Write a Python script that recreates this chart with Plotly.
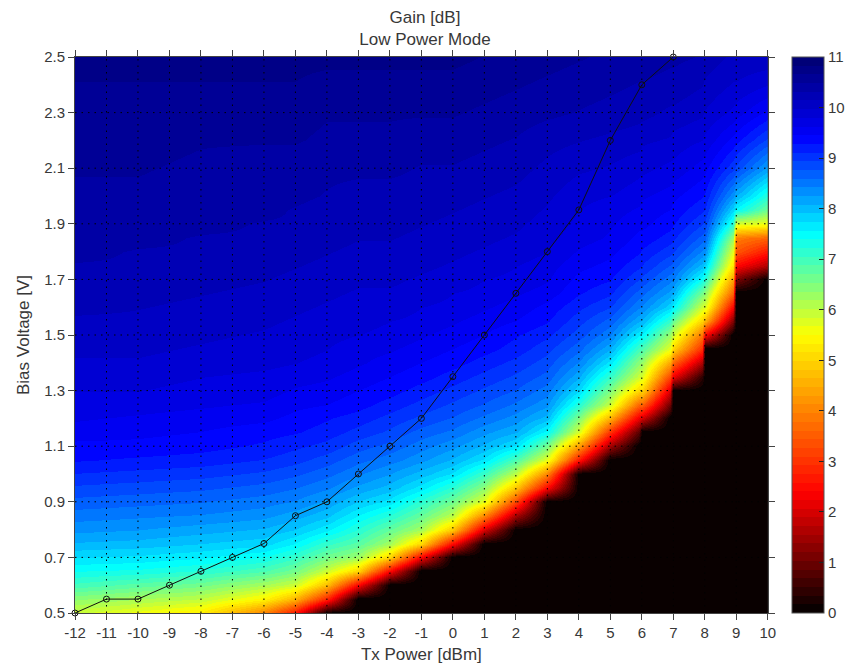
import numpy as np
import plotly.graph_objects as go

tx_power = [-12, -10, -8, -6, -5, -4, -3, -2, -1, 0, 1, 2, 3, 4, 5, 5.9, 6, 6.9, 7, 7.9, 8, 8.9, 9, 10]
bias_v = [0.5, 0.55, 0.6, 0.65, 0.7, 0.75, 0.8, 0.85, 0.9, 0.95,
          1.0, 1.05, 1.1, 1.15, 1.2, 1.25, 1.3, 1.35, 1.4, 1.45,
          1.5, 1.55, 1.6, 1.65, 1.7, 1.75, 1.8, 1.85, 1.9, 1.95,
          2.0, 2.1, 2.2, 2.3, 2.4, 2.5]

g_m12 = [5.9,6.4,7.0,7.4,7.75,8.05,8.3,8.5,8.7,8.9, 9.1,9.3,9.4,9.55,9.65,9.75,9.8,9.9,9.95,10.0, 10.05,10.1,10.2,10.25,10.3,10.3,10.35,10.4,10.4,10.45, 10.45,10.5,10.55,10.6,10.65,10.7]
g_m10 = [5.6,6.2,6.8,7.35,7.7,8.0,8.25,8.45,8.65,8.85, 9.05,9.25,9.4,9.5,9.6,9.7,9.8,9.85,9.95,10.0, 10.05,10.1,10.15,10.2,10.25,10.3,10.3,10.35,10.4,10.4, 10.45,10.5,10.55,10.6,10.65,10.7]
g_m8 = [5.3,6.0,6.6,7.2,7.6,7.9,8.15,8.4,8.6,8.8, 9.0,9.2,9.35,9.45,9.55,9.65,9.75,9.8,9.9,9.95, 10.0,10.05,10.1,10.15,10.2,10.25,10.3,10.3,10.35,10.4, 10.4,10.45,10.5,10.6,10.65,10.7]
g_m6 = [4.0,5.4,6.2,6.9,7.4,7.8,8.05,8.3,8.5,8.7, 8.9,9.1,9.25,9.35,9.5,9.6,9.7,9.75,9.85,9.9, 9.95,10.0,10.05,10.1,10.15,10.2,10.25,10.3,10.3,10.35, 10.35,10.4,10.5,10.55,10.65,10.7]
g_m5 = [2.6,4.6,5.9,6.6,7.1,7.55,7.9,8.15,8.4,8.6, 8.8,9.0,9.15,9.3,9.4,9.5,9.6,9.7,9.8,9.85, 9.9,9.95,10.0,10.05,10.1,10.15,10.2,10.25,10.3,10.3, 10.35,10.4,10.5,10.55,10.65,10.7]
g_m4 = [0,2.8,4.7,5.9,6.6,7.1,7.6,7.95,8.2,8.45, 8.65,8.85,9.05,9.2,9.3,9.45,9.55,9.65,9.75,9.8, 9.85,9.9,9.95,10.0,10.05,10.1,10.15,10.2,10.25,10.25, 10.3,10.35,10.45,10.5,10.6,10.7]
g_m3 = [0,0,2.4,5.0,6.3,6.8,7.2,7.55,7.9,8.2, 8.45,8.65,8.85,9.05,9.2,9.35,9.45,9.55,9.65,9.7, 9.8,9.85,9.9,9.95,10.0,10.05,10.1,10.15,10.2,10.25, 10.25,10.35,10.45,10.5,10.6,10.7]
g_m2 = [0,0,0,2.4,5.0,6.2,6.7,7.2,7.65,8.0, 8.25,8.5,8.7,8.9,9.05,9.2,9.35,9.45,9.55,9.65, 9.75,9.8,9.9,9.95,10.0,10.05,10.1,10.15,10.2,10.2, 10.25,10.35,10.45,10.5,10.6,10.7]
g_m1 = [0,0,0,0,2.4,5.0,6.2,6.7,7.15,7.65, 8.0,8.3,8.5,8.7,8.9,9.05,9.2,9.35,9.45,9.55, 9.65,9.75,9.8,9.9,9.95,10.0,10.05,10.1,10.15,10.2, 10.25,10.3,10.4,10.5,10.6,10.7]
g_p0 = [0,0,0,0,0,2.4,4.8,6.0,6.6,7.15, 7.7,8.05,8.3,8.55,8.75,8.9,9.05,9.2,9.35,9.45, 9.55,9.65,9.75,9.8,9.9,9.95,10.0,10.05,10.1,10.15, 10.2,10.3,10.4,10.5,10.6,10.7]
g_p1 = [0,0,0,0,0,0,2.0,4.0,5.7,6.4, 7.05,7.7,8.05,8.3,8.55,8.75,8.9,9.05,9.2,9.35, 9.45,9.55,9.65,9.75,9.8,9.9,9.95,10.0,10.05,10.1, 10.15,10.25,10.35,10.45,10.55,10.65]
g_p2 = [0,0,0,0,0,0,0,1.5,3.2,4.8, 6.0,6.9,7.7,8.1,8.35,8.55,8.75,8.9,9.05,9.2, 9.3,9.45,9.55,9.65,9.75,9.8,9.9,9.95,10.0,10.05, 10.1,10.2,10.3,10.4,10.5,10.6]
g_p3 = [0,0,0,0,0,0,0,0,0,2.4, 4.0,5.7,6.6,7.5,8.0,8.3,8.5,8.7,8.85,9.0, 9.15,9.3,9.4,9.55,9.65,9.7,9.8,9.85,9.9,9.95, 10.0,10.1,10.2,10.35,10.45,10.55]
g_p4 = [0,0,0,0,0,0,0,0,0,0, 0,2.6,4.3,5.8,6.5,7.2,7.75,8.1,8.4,8.65, 8.85,9.0,9.15,9.3,9.4,9.5,9.6,9.7,9.75,9.8, 9.85,10.0,10.15,10.3,10.4,10.5]
g_p5 = [0,0,0,0,0,0,0,0,0,0, 0,0,1.5,3.0,4.6,5.9,6.5,7.1,7.65,8.1, 8.45,8.7,8.95,9.15,9.3,9.4,9.5,9.6,9.65,9.7, 9.8,9.95,10.1,10.25,10.35,10.45]
g_p59 = [0,0,0,0,0,0,0,0,0,0, 0,0,0,0.8,2.2,3.6,5.0,5.9,6.4,7.0, 7.6,8.1,8.45,8.7,8.95,9.15,9.3,9.4,9.5,9.6, 9.7,9.85,10.05,10.2,10.3,10.4]
g_p6 = [0,0,0,0,0,0,0,0,0,0, 0,0,0,0,2.0,3.6,5.0,5.8,6.3,6.9, 7.55,8.05,8.4,8.65,8.9,9.1,9.25,9.4,9.5,9.55, 9.65,9.85,10.0,10.2,10.3,10.4]
g_p69 = [0,0,0,0,0,0,0,0,0,0, 0,0,0,0,0,1.0,2.0,3.2,4.4,5.7, 6.3,7.1,7.8,8.2,8.5,8.75,9.0,9.2,9.35,9.45, 9.55,9.75,9.95,10.1,10.25,10.35]
g_p7 = [0,0,0,0,0,0,0,0,0,0, 0,0,0,0,0,0,0,2.2,3.6,5.0, 5.9,6.7,7.6,8.1,8.45,8.7,8.95,9.15,9.3,9.4, 9.5,9.75,9.9,10.1,10.25,10.35]
g_p79 = [0,0,0,0,0,0,0,0,0,0, 0,0,0,0,0,0,0,0.4,1.6,2.9, 3.8,5.0,5.9,6.6,7.45,8.0,8.4,8.7,8.95,9.15, 9.3,9.55,9.8,10.0,10.15,10.3]
g_p8 = [0,0,0,0,0,0,0,0,0,0, 0,0,0,0,0,0,0,0,0,0, 2.4,4.6,5.8,6.4,7.2,7.8,8.3,8.65,8.9,9.1, 9.25,9.5,9.75,9.95,10.1,10.25]
g_p89 = [0,0,0,0,0,0,0,0,0,0, 0,0,0,0,0,0,0,0,0,0, 0,1.2,2.4,3.6,4.4,5.2,5.7,6.3,7.2,7.8, 8.3,9.0,9.4,9.75,9.95,10.1]
g_p9 = [0,0,0,0,0,0,0,0,0,0, 0,0,0,0,0,0,0,0,0,0, 0,0,0,0,1.2,2.4,3.4,3.9,5.8,7.5, 8.1,8.9,9.35,9.7,9.95,10.1]
g_p10 = [0,0,0,0,0,0,0,0,0,0, 0,0,0,0,0,0,0,0,0,0, 0,0,0,0,0,1.6,2.6,3.6,5.6,6.6, 7.2,8.2,8.9,9.4,9.8,10.1]

gain_columns = [g_m12, g_m10, g_m8, g_m6, g_m5, g_m4, g_m3, g_m2, g_m1, g_p0, g_p1, g_p2, g_p3,
                g_p4, g_p5, g_p59, g_p6, g_p69, g_p7, g_p79, g_p8, g_p89, g_p9, g_p10]

line_tx = [-12, -11, -10, -9, -8, -7, -6, -5, -4, -3, -2, -1, 0, 1, 2, 3, 4, 5, 6, 7]
line_bias = [0.5, 0.55, 0.55, 0.6, 0.65, 0.7, 0.75, 0.85, 0.9, 1.0, 1.1, 1.2, 1.35, 1.5, 1.65, 1.8, 1.95, 2.2, 2.4, 2.5]

x_ticks = list(range(-12, 11))
x_labels = ["%d" % t for t in x_ticks]
y_ticks = [0.5, 0.7, 0.9, 1.1, 1.3, 1.5, 1.7, 1.9, 2.1, 2.3, 2.5]
cbar_ticks = list(range(0, 12))

# 64-level colormap, as in the reference colour bar
cm_v = [0, 2.37, 5.5, 7.5, 9.4, 11]
cm_r = [0, 255, 255, 0, 0, 0]
cm_g = [0, 0, 255, 255, 0, 0]
cm_b = [0, 0, 0, 255, 255, 112]
colorscale = []
for i in range(64):
    v = (i + 0.5) / 64 * 11
    c = "rgb(%d,%d,%d)" % (np.interp(v, cm_v, cm_r), np.interp(v, cm_v, cm_g), np.interp(v, cm_v, cm_b))
    colorscale += [[i / 64, c], [(i + 1) / 64, c]]

FONT = "Liberation Sans, Arial, sans-serif"
TXT = "#383838"

fig = go.Figure()
fig.add_trace(go.Heatmap(
    x=tx_power, y=bias_v, z=np.array(gain_columns).T.tolist(),
    zmin=0, zmax=11, zsmooth="best", colorscale=colorscale,
    colorbar=dict(x=0.9306, xanchor="left", y=0.5, yanchor="middle", len=1.0, lenmode="fraction",
                  thickness=32, thicknessmode="pixels", xpad=0, ypad=0,
                  tickvals=cbar_ticks, ticks="inside", ticklen=5, tickcolor="#222222",
                  outlinecolor="#555555", outlinewidth=1,
                  tickfont=dict(family=FONT, size=15, color=TXT)),
    hoverinfo="skip",
))

# dotted grid drawn over the image
gx, gy = [], []
for t in x_ticks[1:-1]:
    gx += [t, t, None]
    gy += [0.5, 2.5, None]
for t in y_ticks[1:-1]:
    gx += [-12, 10, None]
    gy += [t, t, None]
fig.add_trace(go.Scatter(x=gx, y=gy, mode="lines", showlegend=False, hoverinfo="skip",
                         line=dict(color="black", width=1, dash="1.5px,5px")))

fig.add_trace(go.Scatter(x=line_tx, y=line_bias, mode="lines+markers", showlegend=False, cliponaxis=False,
                         line=dict(color="#101010", width=1),
                         marker=dict(symbol="circle-open", size=6, color="#101010", line=dict(width=1))))

axis_common = dict(showgrid=False, zeroline=False, showline=True, linecolor="#444444", linewidth=1,
                   mirror="ticks", ticks="outside", ticklen=6, tickcolor="#444444", tickwidth=1,
                   tickfont=dict(family=FONT, size=15, color=TXT), layer="above traces")

fig.update_layout(
    width=853, height=671, margin=dict(l=75, r=0, t=57, b=58),
    paper_bgcolor="white", plot_bgcolor="black", showlegend=False,
    title=dict(text="Gain [dB]<br>Low Power Mode", x=0.4982, xanchor="center", y=0.9656, yanchor="top",
               font=dict(family=FONT, size=17, color=TXT)),
    xaxis=dict(domain=[0, 0.8997], range=[-12, 10], tickmode="array", tickvals=x_ticks, ticktext=x_labels,
               title=dict(text="Tx Power [dBm]", standoff=8,
               font=dict(family=FONT, size=17, color=TXT)), **axis_common),
    yaxis=dict(range=[0.5, 2.5], tickvals=y_ticks, ticktext=["%.1f" % t for t in y_ticks],
               title=dict(text="Bias Voltage [V]", standoff=10,
               font=dict(family=FONT, size=17, color=TXT)), **axis_common),
)
fig.write_html("out.html", config={"displayModeBar": False}, post_script="document.body.style.margin='0';")
